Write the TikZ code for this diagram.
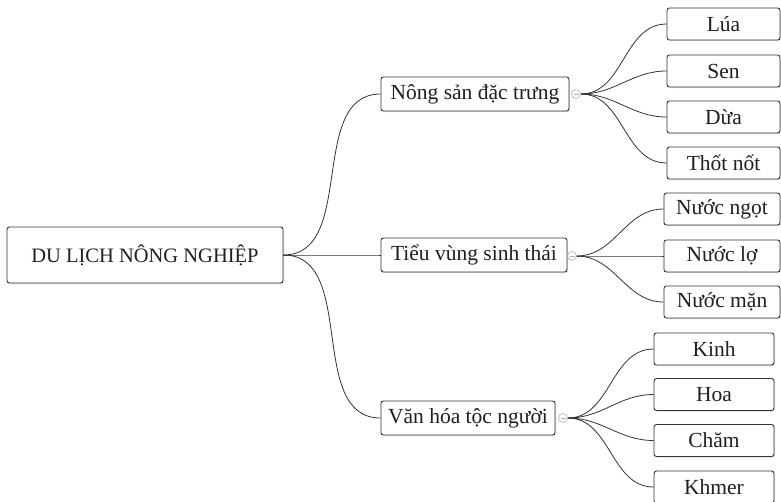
\documentclass[tikz,border=0pt]{standalone}
\usepackage{fontspec}
\setmainfont{Liberation Serif}
\usetikzlibrary{shadows}
\definecolor{edge}{HTML}{333333}
\definecolor{txt}{HTML}{1f1f1f}
\tikzset{
  box/.style={draw=edge, line width=0.9pt, rounded corners=2.5pt, fill=white, text=txt,
    inner sep=0pt, align=center,
    drop shadow={opacity=0.25, shadow xshift=1pt, shadow yshift=-1pt}},
  rootbox/.style={box, minimum width=276pt, minimum height=56pt, font=\fontsize{20.5}{22}\selectfont},
  topic/.style={box, minimum height=34pt, font=\fontsize{21.5}{22}\selectfont},
  leaf/.style={box, minimum height=32pt, font=\fontsize{21.5}{22}\selectfont},
  knob/.style={circle, draw=gray!60, fill=white, line width=0.6pt, minimum size=9pt, inner sep=0pt},
  link/.style={draw=edge, line width=0.8pt, out=0, in=180},
}
\begin{document}
\begin{tikzpicture}[x=1pt,y=-1pt]
\useasboundingbox (0,0) rectangle (781,501);
\begin{scope}
\clip (0,0) rectangle (781,501);
% root
\node[rootbox] (root) at (145,255) {DU LỊCH NÔNG NGHIỆP};
% topics
\node[topic, minimum width=188pt] (n1) at (475,94) {Nông sản đặc trưng};
\node[topic, minimum width=186pt] (n2) at (474,255) {Tiểu vùng sinh thái};
\node[topic, minimum width=174pt] (n3) at (468,418) {Văn hóa tộc người};
% knobs
\node[knob] (c1) at (576,94) {};
\node[knob] (c2) at (572,256) {};
\node[knob] (c3) at (563,418) {};
\foreach \c in {c1,c2,c3}{\draw[gray!60, line width=0.5pt] ([xshift=-2.5pt]\c.center) -- ([xshift=2.5pt]\c.center);}
% leaves group 1
\node[leaf, minimum width=113pt] (l1) at (723.5,24) {Lúa};
\node[leaf, minimum width=113pt] (l2) at (723.5,71) {Sen};
\node[leaf, minimum width=113pt] (l3) at (723.5,117) {Dừa};
\node[leaf, minimum width=113pt] (l4) at (723.5,163) {Thốt nốt};
% leaves group 2
\node[leaf, minimum width=116pt] (m1) at (722,209) {Nước ngọt};
\node[leaf, minimum width=116pt] (m2) at (722,256) {Nước lợ};
\node[leaf, minimum width=116pt] (m3) at (722,302) {Nước mặn};
% leaves group 3
\node[leaf, minimum width=120pt] (k1) at (714,349) {Kinh};
\node[leaf, minimum width=120pt] (k2) at (714,394.5) {Hoa};
\node[leaf, minimum width=120pt] (k3) at (714,440.5) {Chăm};
\node[leaf, minimum width=120pt] (k4) at (714,487) {Khmer};
\end{scope}
% connectors
\foreach \t in {n1,n2,n3}{\draw[link] (root.east) to (\t.west);}
\foreach \t in {l1,l2,l3,l4}{\draw[link] (c1.east) to (\t.west);}
\foreach \t in {m1,m2,m3}{\draw[link] (c2.east) to (\t.west);}
\foreach \t in {k1,k2,k3,k4}{\draw[link] (c3.east) to (\t.west);}
\end{tikzpicture}
\end{document}
